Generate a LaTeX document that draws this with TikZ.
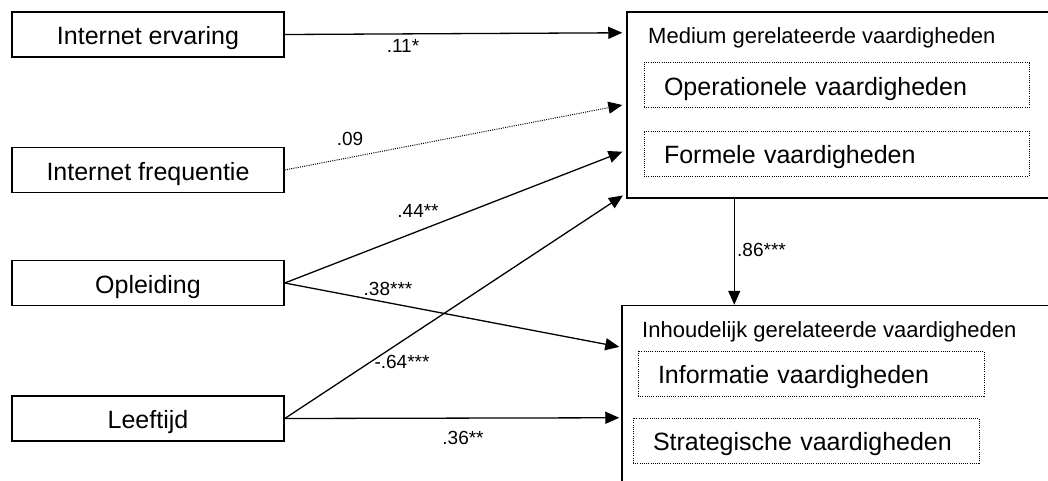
\documentclass[tikz,border=0pt]{standalone}
\usepackage{fontspec}
\setmainfont{Liberation Sans}
\usetikzlibrary{arrows.meta,calc}
\begin{document}
\begin{tikzpicture}[x=1pt,y=-1pt,
  srcbox/.style={draw,line width=1.5pt,inner sep=0pt,minimum width=272pt,minimum height=45pt,text height=20pt,text depth=0pt,font=\fontsize{25}{30}\selectfont},
  bigbox/.style={draw,line width=1.5pt,inner sep=0pt},
  subbox/.style={draw,line width=0.9pt,dash pattern=on 1pt off 1.2pt,inner xsep=20pt,inner ysep=0pt,minimum height=45pt,align=left,text height=20pt,text depth=0pt,font=\fontsize{25}{30}\selectfont},
  head/.style={anchor=base west,inner sep=0pt,font=\fontsize{22}{26}\selectfont},
  coef/.style={anchor=base,inner sep=0pt,font=\fontsize{19}{22}\selectfont},
  conn/.style={line width=1.3pt,-{Triangle[length=14pt,width=12pt]}},
  ]
\clip (0,0) rectangle (1048,480);
\fill[white] (0,0) rectangle (1048,480);

% source boxes
\node[srcbox] (erv) at (148,34.5) {Internet ervaring};
\node[srcbox] (fre) at (148,170) {Internet frequentie};
\node[srcbox] (opl) at (148,283) {Opleiding};
\node[srcbox] (lft) at (148,418.5) {Leeftijd};

% medium box
\node[bigbox,minimum width=443pt,minimum height=186pt] (med) at (848.5,105) {};
\node[head] (medh) at (648,43) {Medium gerelateerde vaardigheden};
\node[subbox,minimum width=385pt,text width=345pt] (ope) at (836.5,85) {Operationele vaardigheden};
\node[subbox,minimum width=385pt,text width=345pt] (for) at (836.5,153.5) {Formele vaardigheden};

% inhoudelijk box
\node[bigbox,minimum width=448pt,minimum height=195pt] (inh) at (846,403) {};
\node[head] (inhh) at (642,337) {Inhoudelijk gerelateerde vaardigheden};
\node[subbox,minimum width=346pt,text width=306pt] (inf) at (811,373.5) {Informatie vaardigheden};
\node[subbox,minimum width=346pt,text width=306pt] (str) at (806,440.5) {Strategische vaardigheden};

% arrow end points
\coordinate (m1) at ($(med.north west)+(0,21.5)$);
\coordinate (m2) at ($(med.north west)+(0,93)$);
\coordinate (m3) at ($(med.north west)+(0,139)$);
\coordinate (m4) at ($(med.north west)+(0,182)$);
\coordinate (i1) at ($(inh.north west)+(0,42.5)$);
\coordinate (i2) at ($(inh.north west)+(0,113)$);
\coordinate (ms) at ($(med.south west)+(108,0)$);
\coordinate (it) at ($(inh.north west)+(113,0)$);

% connectors
\draw[conn,shorten >=4pt] (erv.east) -- (m1);
\draw[conn,shorten >=4pt,dash pattern=on 1pt off 1.2pt,line width=1pt] (fre.east) -- (m2);
\draw[conn,shorten >=4pt] (opl.east) -- (m3);
\draw[conn,shorten >=4pt] (lft.east) -- (m4);
\draw[conn,shorten >=2pt] (opl.east) -- (i1);
\draw[conn,shorten >=2pt] (lft.east) -- (i2);
\draw[conn] (ms) -- (it);

% coefficients
\node[coef] (c1) at (403,52) {.11*};
\node[coef] (c2) at (350,145) {.09};
\node[coef] (c3) at (418,217) {.44**};
\node[coef] (c4) at (388,295) {.38***};
\node[coef] (c5) at (402,368) {-.64***};
\node[coef] (c6) at (463,444) {.36**};
\node[coef,anchor=base west] (c7) at (737,256) {.86***};
\end{tikzpicture}
\end{document}
